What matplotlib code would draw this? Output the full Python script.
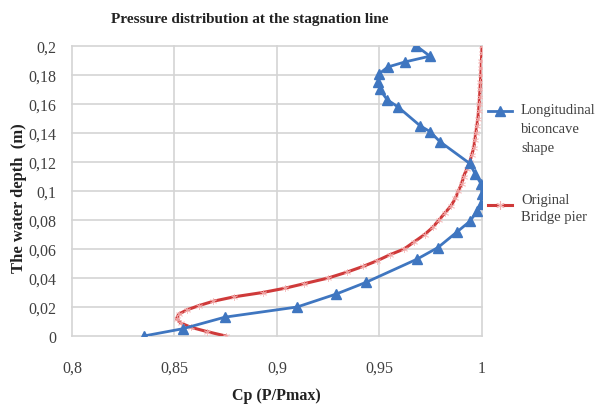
import matplotlib
matplotlib.use("Agg")
import matplotlib.pyplot as plt
from matplotlib.lines import Line2D

# ---- data ----
blue_x = [0.835, 0.854, 0.8746, 0.9098, 0.929, 0.9434, 0.9683, 0.9785, 0.988, 0.994,
          0.9976, 0.9995, 1.0, 0.9995, 0.9966, 0.994, 0.9795, 0.9746, 0.9698, 0.959,
          0.9537, 0.9502, 0.9493, 0.950, 0.954, 0.9624, 0.9746, 0.968]
blue_y = [0.0, 0.005, 0.013, 0.020, 0.029, 0.037, 0.053, 0.061, 0.072, 0.079,
          0.086, 0.091, 0.098, 0.105, 0.112, 0.119, 0.134, 0.141, 0.145, 0.158,
          0.163, 0.170, 0.175, 0.181, 0.1855, 0.189, 0.193, 0.200]

red_y = [0.0, 0.003, 0.006, 0.009, 0.012, 0.015, 0.018, 0.021, 0.024, 0.027,
         0.030, 0.033, 0.036, 0.040, 0.044, 0.048, 0.052, 0.056, 0.060, 0.065,
         0.070, 0.075, 0.080, 0.085, 0.090, 0.095, 0.100, 0.105, 0.110, 0.115,
         0.120, 0.125, 0.130, 0.135, 0.140, 0.145, 0.150, 0.155, 0.160, 0.165,
         0.170, 0.175, 0.180, 0.185, 0.190, 0.195, 0.200]
red_x = [0.875, 0.866, 0.858, 0.853, 0.851, 0.852, 0.856, 0.862, 0.869, 0.879,
         0.893, 0.904, 0.913, 0.925, 0.934, 0.942, 0.949, 0.955, 0.962, 0.967,
         0.972, 0.976, 0.979, 0.982, 0.985, 0.987, 0.9885, 0.990, 0.991, 0.9925,
         0.994, 0.995, 0.996, 0.9965, 0.997, 0.9975, 0.998, 0.9983, 0.9986, 0.9988,
         0.999, 0.9992, 0.9994, 0.9996, 0.9997, 0.9999, 1.0]

x_ticks = [0.8, 0.85, 0.9, 0.95, 1.0]
x_tick_labels = ["0,8", "0,85", "0,9", "0,95", "1"]
y_ticks = [0.0, 0.02, 0.04, 0.06, 0.08, 0.10, 0.12, 0.14, 0.16, 0.18, 0.20]
y_tick_labels = ["0", "0,02", "0,04", "0,06", "0,08", "0,1", "0,12", "0,14", "0,16", "0,18", "0,2"]

title = "Pressure distribution at the stagnation line"
xlabel = "Cp (P/Pmax)"
ylabel = "The water depth  (m)"
label_blue = "Longitudinal\nbiconcave\nshape"
label_red = "Original\nBridge pier"

# ---- styles ----
plt.rcParams['font.family'] = ['Liberation Serif', 'DejaVu Serif']
BLUE = "#3f76c0"
RED = "#cf3a3a"
PINK = "#f4b4b4"
GRID = "#d4d4d4"
TXT = "#404040"

W, H = 596, 406
fig = plt.figure(figsize=(W / 100, H / 100), dpi=100)
ax = fig.add_axes([72 / W, 1 - 337 / H, 410 / W, 290 / H])

ax.set_xlim(0.8, 1.0)
ax.set_ylim(0.0, 0.2)
ax.set_xticks(x_ticks)
ax.set_xticklabels(x_tick_labels)
ax.set_yticks(y_ticks)
ax.set_yticklabels(y_tick_labels)
ax.tick_params(axis='both', length=0, labelsize=11.5, labelcolor=TXT)
ax.tick_params(axis='y', pad=11)
ax.tick_params(axis='x', pad=17)
for s in ax.spines.values():
    s.set_visible(False)
ax.grid(True, color=GRID, linewidth=1.2)
for gl in ax.get_xgridlines() + ax.get_ygridlines():
    gl.set_clip_on(False)
ax.set_axisbelow(True)

ax.plot(red_x, red_y, color=RED, linewidth=2.2, zorder=3)
ax.plot(red_x, red_y, linestyle='none', marker=(6, 2, 0), markersize=5,
        markeredgecolor=PINK, markerfacecolor=PINK, markeredgewidth=0.6,
        alpha=0.8, zorder=3.5)
ax.plot(blue_x, blue_y, color=BLUE, linewidth=2.0, marker='^', markersize=6.5,
        markeredgecolor=BLUE, markerfacecolor=BLUE, zorder=4)

fig.text(250 / W, 1 - 20 / H, title, ha='center', va='center', fontsize=11,
         fontweight='bold', color='#222222')
fig.text(276 / W, 1 - 396 / H, xlabel, ha='center', va='center', fontsize=11.5,
         fontweight='bold', color='#222222')
fig.text(19 / W, 1 - 198 / H, ylabel, ha='center', va='center', rotation=90,
         fontsize=12, fontweight='bold', color='#222222')

# ---- legend (manual, to keep key on first text line) ----
fig.add_artist(Line2D([488 / W, 512 / W], [1 - 112 / H, 1 - 112 / H], color=BLUE,
                      linewidth=2.0, transform=fig.transFigure))
fig.add_artist(Line2D([500 / W], [1 - 112 / H], color=BLUE, marker='^', markersize=7,
                      linestyle='none', transform=fig.transFigure))
fig.add_artist(Line2D([488 / W, 512 / W], [1 - 206 / H, 1 - 206 / H], color=RED,
                      linewidth=2.2, transform=fig.transFigure))
fig.add_artist(Line2D([500 / W], [1 - 206 / H], color=PINK, marker=(6, 2, 0),
                      markersize=6, markeredgewidth=0.8, linestyle='none',
                      transform=fig.transFigure))
fig.text(521 / W, 1 - 104 / H, label_blue, ha='left', va='top', fontsize=10.5,
         color=TXT, linespacing=1.6)
fig.text(521 / W, 1 - 194 / H, label_red, ha='left', va='top', fontsize=10.5,
         color=TXT, linespacing=1.4)

fig.savefig("out.png", dpi=100)
